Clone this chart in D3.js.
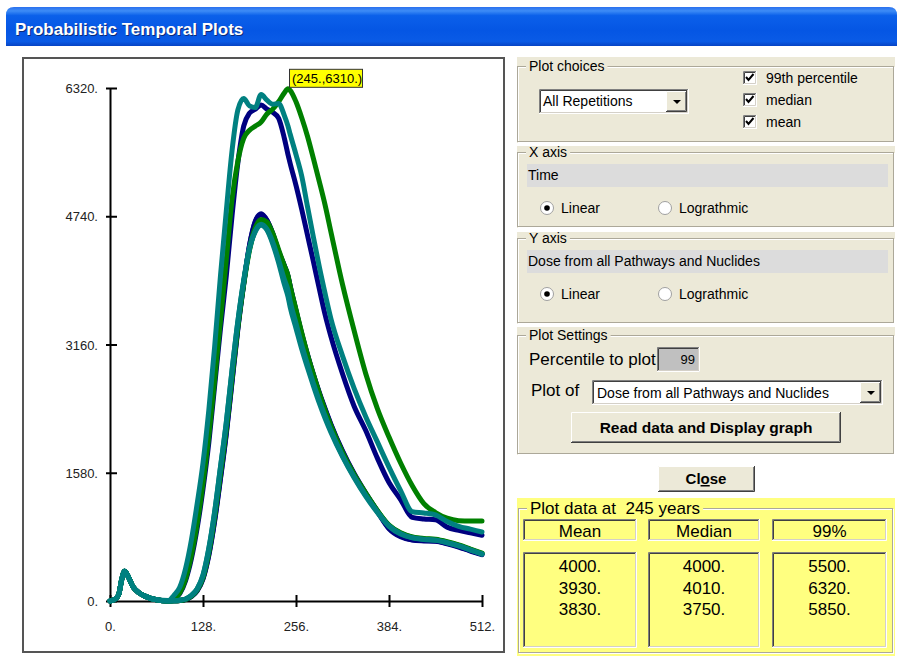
<!DOCTYPE html>
<html>
<head>
<meta charset="utf-8">
<script src="https://cdn.jsdelivr.net/npm/d3@7"></script>
<style>
body { margin: 0; background: #fff; }
svg text { font-family: "Liberation Sans", Arial, sans-serif; fill: #000; }
</style>
</head>
<body>
<script>
var w = 898;
var h = 664;

// time axis (years) shared by all the curves
var years = [0, 8, 12, 16, 20, 24, 32, 40, 48, 64, 80,
    88, 96, 104, 112, 120, 128, 136, 144, 152, 160,
    168, 176, 184, 192, 200, 208, 216, 224, 232, 240,
    245, 248, 256, 264, 272, 280, 288, 296, 304,
    320, 336, 352, 368, 384, 400, 416, 432, 448, 464, 480, 496, 512];

// repetition 1 (navy)
var meanRep1 = [0, 30, 80, 260, 365, 320, 170, 100, 60, 15, 0,
    2, 6, 18, 55, 125, 270, 560, 980, 1500, 2050,
    2700, 3350, 3900, 4380, 4680, 4770, 4690, 4520, 4300, 4130,
    4000, 3880, 3580, 3290, 3030, 2790, 2570, 2370, 2180,
    1850, 1570, 1330, 1110, 900, 800, 755, 745, 740, 710, 670, 620, 575];
var medianRep1 = [0, 30, 80, 260, 365, 320, 170, 100, 60, 15, 0,
    2, 6, 20, 58, 130, 280, 575, 1000, 1520, 2070,
    2720, 3370, 3910, 4380, 4670, 4760, 4690, 4530, 4310, 4130,
    4000, 3870, 3570, 3280, 3020, 2780, 2560, 2360, 2170,
    1840, 1560, 1320, 1100, 890, 790, 750, 740, 735, 705, 665, 615, 570];
var p99Rep1 = [0, 30, 80, 260, 365, 320, 170, 100, 60, 15, 3,
    25, 90, 250, 520, 900, 1380, 1950, 2650, 3350, 4000,
    4750, 5400, 5850, 6010, 6060, 6110, 6060, 6020, 5950, 5700,
    5500, 5390, 5120, 4820, 4500, 4180, 3850, 3530, 3260,
    2800, 2400, 2100, 1760, 1460, 1250, 1030, 1010, 1000, 910, 870, 840, 810];

// repetition 2 (green)
var meanRep2 = [0, 30, 80, 260, 365, 320, 170, 100, 60, 15, 0,
    2, 7, 20, 60, 135, 290, 600, 1040, 1570, 2120,
    2760, 3380, 3900, 4320, 4580, 4680, 4640, 4490, 4280, 4060,
    3930, 3800, 3520, 3250, 2990, 2750, 2530, 2330, 2140,
    1820, 1550, 1320, 1110, 930, 835, 785, 765, 755, 725, 685, 635, 585];
var medianRep2 = [0, 30, 80, 260, 365, 320, 170, 100, 60, 15, 0,
    2, 7, 21, 62, 140, 295, 610, 1050, 1580, 2130,
    2770, 3400, 3920, 4340, 4600, 4700, 4670, 4530, 4330, 4130,
    4010, 3880, 3590, 3300, 3030, 2790, 2560, 2350, 2160,
    1830, 1560, 1330, 1115, 935, 840, 790, 770, 760, 730, 690, 640, 590];
var p99Rep2 = [0, 30, 80, 260, 365, 320, 170, 100, 60, 15, 3,
    30, 100, 270, 560, 950, 1450, 2030, 2720, 3450, 4200,
    4950, 5420, 5700, 5800, 5850, 5900, 6000, 6060, 6150, 6260,
    6310, 6290, 6150, 5950, 5720, 5450, 5170, 4880, 4550,
    3900, 3330, 2800, 2370, 2020, 1700, 1420, 1200, 1090, 1020, 990, 985, 985];

// repetition 3 (teal)
var meanRep3 = [0, 30, 80, 260, 365, 320, 170, 100, 60, 15, 0,
    3, 8, 25, 70, 150, 320, 650, 1100, 1650, 2200,
    2850, 3450, 3950, 4350, 4560, 4640, 4580, 4420, 4200, 3960,
    3830, 3690, 3420, 3150, 2910, 2680, 2470, 2280, 2100,
    1790, 1530, 1300, 1100, 925, 830, 780, 760, 750, 720, 680, 630, 580];
var medianRep3 = [0, 30, 80, 260, 365, 320, 170, 100, 60, 15, 0,
    3, 8, 24, 68, 148, 315, 640, 1090, 1640, 2190,
    2840, 3440, 3940, 4340, 4550, 4630, 4570, 4400, 4170, 3900,
    3750, 3620, 3360, 3100, 2870, 2650, 2440, 2250, 2080,
    1780, 1520, 1290, 1090, 920, 825, 778, 758, 748, 718, 678, 628, 578];
var p99Rep3 = [0, 30, 80, 260, 365, 320, 170, 100, 60, 15, 5,
    70, 170, 400, 750, 1200, 1700, 2350, 3130, 4000, 4800,
    5550, 6050, 6190, 6100, 6080, 6240, 6170, 6120, 6130, 5980,
    5850, 5750, 5500, 5230, 4850, 4480, 4120, 3790, 3480,
    3020, 2620, 2270, 1960, 1650, 1360, 1100, 1085, 1060, 980, 920, 885, 850];

var repColors = ["#000080", "#008000", "#008080"];

var xTicks = [0, 128, 256, 384, 512];
var yTicks = [0, 1580, 3160, 4740, 6320];

// point under the cursor
var pickYear = 245;
var pickValue = 6310;

// "Plot data at" table
var tableHeads = ["Mean", "Median", "99%"];
var tableMean = [4000, 3930, 3830];
var tableMedian = [4000, 4010, 3750];
var table99 = [5500, 6320, 5850];

var checkLabels = ["99th percentile", "median", "mean"];

var beige = "#ece9d8";

var svg = d3.select("body")
    .append("svg")
    .attr("width", w)
    .attr("height", h);

//************** helpers */
function bevel(g, x, y, bw, bh, fill, sunken) {
    g.append("rect")
        .attr("x", x).attr("y", y)
        .attr("width", bw).attr("height", bh)
        .style("fill", fill);
    var c = sunken ? ["#808080", "#ffffff", "#404040", "#d4d0c8"]
                   : ["#ffffff", "#404040", beige, "#808080"];
    g.append("path")
        .attr("d", "M" + (x + 0.5) + "," + (y + bh) + "V" + (y + 0.5) + "H" + (x + bw))
        .style("fill", "none").style("stroke", c[0]);
    g.append("path")
        .attr("d", "M" + x + "," + (y + bh - 0.5) + "H" + (x + bw - 0.5) + "V" + y)
        .style("fill", "none").style("stroke", c[1]);
    g.append("path")
        .attr("d", "M" + (x + 1.5) + "," + (y + bh - 1) + "V" + (y + 1.5) + "H" + (x + bw - 1))
        .style("fill", "none").style("stroke", c[2]);
    g.append("path")
        .attr("d", "M" + (x + 1) + "," + (y + bh - 1.5) + "H" + (x + bw - 1.5) + "V" + (y + 1))
        .style("fill", "none").style("stroke", c[3]);
}

function groupBox(g, x, y, bw, bh, label, fs, bg) {
    g.append("rect")
        .attr("x", x + 1.5).attr("y", y + 1.5)
        .attr("width", bw - 1).attr("height", bh - 1)
        .style("fill", "none").style("stroke", "#ffffff");
    g.append("rect")
        .attr("x", x + 0.5).attr("y", y + 0.5)
        .attr("width", bw - 1).attr("height", bh - 1)
        .style("fill", "none").style("stroke", "#aca899");
    var t = g.append("text")
        .attr("x", x + 12).attr("y", y + fs * 0.36)
        .style("font-size", fs + "px")
        .style("white-space", "pre")
        .text(label);
    var len = t.node().getComputedTextLength();
    g.insert("rect", function () { return t.node(); })
        .attr("x", x + 9).attr("y", y - 2)
        .attr("width", len + 6).attr("height", 5)
        .style("fill", bg);
}

function dropArrow(g, x, y) {
    bevel(g, x, y, 21, 21, beige, false);
    g.append("path")
        .attr("d", "M" + (x + 7) + "," + (y + 9) + "h8l-4,4z")
        .style("fill", "#000");
}

function radio(g, cx, cy, on, label) {
    g.append("circle")
        .attr("cx", cx).attr("cy", cy).attr("r", 6.5)
        .style("fill", "#fff").style("stroke", "#a0a0a0");
    if (on) {
        g.append("circle")
            .attr("cx", cx).attr("cy", cy).attr("r", 2.8)
            .style("fill", "#000");
    }
    g.append("text")
        .attr("x", cx + 14).attr("y", cy + 5)
        .style("font-size", "14px")
        .text(label);
}

//************** title bar */
var grad = svg.append("defs").append("linearGradient")
    .attr("id", "titleGrad")
    .attr("x1", 0).attr("y1", 0).attr("x2", 0).attr("y2", 1);
grad.append("stop").attr("offset", "0%").attr("stop-color", "#2a70ee");
grad.append("stop").attr("offset", "10%").attr("stop-color", "#3d8cf6");
grad.append("stop").attr("offset", "22%").attr("stop-color", "#0b60ea");
grad.append("stop").attr("offset", "60%").attr("stop-color", "#0556e4");
grad.append("stop").attr("offset", "88%").attr("stop-color", "#0a5be6");
grad.append("stop").attr("offset", "100%").attr("stop-color", "#0744c4");

svg.append("path")
    .attr("d", "M6,46V15Q6,7 14,7H889Q897,7 897,15V46Z")
    .style("fill", "url(#titleGrad)");

svg.append("text")
    .attr("x", 16).attr("y", 36)
    .style("font-size", "17px").style("font-weight", "bold")
    .style("fill", "#0a2a7a")
    .text("Probabilistic Temporal Plots");
svg.append("text")
    .attr("x", 15).attr("y", 35)
    .style("font-size", "17px").style("font-weight", "bold")
    .style("fill", "#ffffff")
    .text("Probabilistic Temporal Plots");

//************** chart panel */
svg.append("rect")
    .attr("x", 23).attr("y", 58)
    .attr("width", 481).attr("height", 594)
    .style("fill", "#fff")
    .style("stroke", "#555")
    .style("stroke-width", 2);

var x = d3.scaleLinear().domain([0, 512]).range([110, 482]);
var y = d3.scaleLinear().domain([0, 6320]).range([601, 88]);

var xAxis = d3.axisBottom(x)
    .tickValues(xTicks)
    .tickSizeOuter(0)
    .tickFormat(function (d) { return d + "."; });
var yAxis = d3.axisLeft(y)
    .tickValues(yTicks)
    .tickSizeOuter(0)
    .tickFormat(function (d) { return d + "."; });

var gx = svg.append("g").attr("transform", "translate(0," + y(0) + ")").call(xAxis);
gx.selectAll(".tick line").attr("y1", -6).attr("y2", 6);
gx.selectAll(".tick text").attr("y", 21).attr("dy", "0.71em");

var gy = svg.append("g").attr("transform", "translate(" + x(0) + ",0)").call(yAxis);
gy.selectAll(".tick line").attr("x1", -4).attr("x2", 7);
gy.selectAll(".tick text").attr("x", -12).attr("dy", "0.35em");

svg.selectAll(".domain, .tick line")
    .style("stroke", "#000")
    .style("stroke-width", 2);
svg.selectAll(".tick text")
    .style("font-family", "'Liberation Sans', Arial, sans-serif")
    .style("font-size", "13px")
    .style("fill", "#222");

//************** curves */
var series = [
    { vals: meanRep1, color: repColors[0] },
    { vals: medianRep1, color: repColors[0] },
    { vals: p99Rep1, color: repColors[0] },
    { vals: meanRep2, color: repColors[1] },
    { vals: medianRep2, color: repColors[1] },
    { vals: p99Rep2, color: repColors[1] },
    { vals: meanRep3, color: repColors[2] },
    { vals: medianRep3, color: repColors[2] },
    { vals: p99Rep3, color: repColors[2] }
];

var line = d3.line()
    .x(function (d, i) { return x(years[i]); })
    .y(function (d) { return y(d); })
    .curve(d3.curveMonotoneX);

svg.append("g")
    .selectAll("path")
    .data(series)
    .enter()
    .append("path")
    .attr("d", function (d) { return line(d.vals); })
    .style("fill", "none")
    .style("stroke", function (d) { return d.color; })
    .style("stroke-width", 5)
    .style("stroke-linejoin", "round")
    .style("stroke-linecap", "round");

// value label at the picked point
var tip = svg.append("g")
    .attr("transform", "translate(" + (x(pickYear) + 1) + "," + (y(pickValue) - 20) + ")");
tip.append("rect")
    .attr("x", 0.5).attr("y", 0.5)
    .attr("width", 73).attr("height", 18)
    .style("fill", "#ffff00")
    .style("stroke", "#333");
tip.append("text")
    .attr("x", 3).attr("y", 14)
    .style("font-size", "13px")
    .text("(" + pickYear + ".," + pickValue + ".)");

//************** controls */
var ctl = svg.append("g");

var frames = [
    { y: 57, h: 86, line: 66, label: "Plot choices" },
    { y: 146, h: 82, line: 152, label: "X axis" },
    { y: 232, h: 92, line: 238, label: "Y axis" },
    { y: 327, h: 128, line: 335, label: "Plot Settings" }
];
frames.forEach(function (f) {
    ctl.append("rect")
        .attr("x", 517).attr("y", f.y)
        .attr("width", 378).attr("height", f.h)
        .style("fill", beige);
    groupBox(ctl, 517, f.line, 377, f.y + f.h - f.line - 1, f.label, 14, beige);
});

// Plot choices
bevel(ctl, 539, 89, 150, 25, "#fff", true);
ctl.append("text").attr("x", 543).attr("y", 106)
    .style("font-size", "14px").text("All Repetitions");
dropArrow(ctl, 666, 91);

checkLabels.forEach(function (lab, i) {
    var cy = 78 + i * 22;
    bevel(ctl, 743, cy - 7, 14, 14, "#fff", true);
    ctl.append("path")
        .attr("d", "M" + 746 + "," + (cy - 1) + "l2.5,3l5,-6")
        .style("fill", "none").style("stroke", "#000").style("stroke-width", 2);
    ctl.append("text").attr("x", 766).attr("y", cy + 5)
        .style("font-size", "14px").text(lab);
});

// X axis
ctl.append("rect").attr("x", 527).attr("y", 164).attr("width", 361).attr("height", 23)
    .style("fill", "#dcdcdc");
ctl.append("text").attr("x", 528).attr("y", 180)
    .style("font-size", "14px").text("Time");
radio(ctl, 547, 208, true, "Linear");
radio(ctl, 665, 208, false, "Lograthmic");

// Y axis
ctl.append("rect").attr("x", 527).attr("y", 250).attr("width", 361).attr("height", 23)
    .style("fill", "#dcdcdc");
ctl.append("text").attr("x", 528).attr("y", 266)
    .style("font-size", "14px").text("Dose from all Pathways and Nuclides");
radio(ctl, 547, 294, true, "Linear");
radio(ctl, 665, 294, false, "Lograthmic");

// Plot settings
ctl.append("text").attr("x", 529).attr("y", 365)
    .style("font-size", "17px").text("Percentile to plot");
bevel(ctl, 657, 347, 43, 25, "#c0c0c0", true);
ctl.append("text").attr("x", 695).attr("y", 364)
    .style("font-size", "13px").style("text-anchor", "end").text("99");

ctl.append("text").attr("x", 531).attr("y", 396)
    .style("font-size", "17px").text("Plot of");
bevel(ctl, 592, 380, 291, 25, "#fff", true);
ctl.append("text").attr("x", 597).attr("y", 398)
    .style("font-size", "14px").text("Dose from all Pathways and Nuclides");
dropArrow(ctl, 860, 382);

bevel(ctl, 571, 412, 270, 31, beige, false);
ctl.append("text").attr("x", 706).attr("y", 433)
    .style("font-size", "15.5px").style("font-weight", "bold")
    .style("text-anchor", "middle").text("Read data and Display graph");

// Close button
bevel(ctl, 658, 466, 97, 26, beige, false);
var closeTxt = ctl.append("text").attr("x", 706).attr("y", 484)
    .style("font-size", "15px").style("font-weight", "bold")
    .style("text-anchor", "middle");
closeTxt.append("tspan").text("Cl");
closeTxt.append("tspan").style("text-decoration", "underline").text("o");
closeTxt.append("tspan").text("se");

//************** plot data table */
var tbl = svg.append("g");
tbl.append("rect")
    .attr("x", 517).attr("y", 498)
    .attr("width", 378).attr("height", 158)
    .style("fill", "#ffff80");
groupBox(tbl, 518, 508, 375, 145, "Plot data at  " + pickYear + " years", 17, "#ffff80");

var colX = [523, 648, 772];
var colW = [114, 112, 115];
var cols = [tableMean, tableMedian, table99];
tableHeads.forEach(function (head, i) {
    bevel(tbl, colX[i], 519, colW[i], 22, "#ffff80", true);
    tbl.append("text")
        .attr("x", colX[i] + colW[i] / 2).attr("y", 537)
        .style("font-size", "17px").style("text-anchor", "middle")
        .text(head);
    bevel(tbl, colX[i], 552, colW[i], 96, "#ffff80", true);
    tbl.selectAll(null)
        .data(cols[i])
        .enter()
        .append("text")
        .attr("x", colX[i] + colW[i] / 2)
        .attr("y", function (d, j) { return 572 + j * 21.5; })
        .style("font-size", "17px").style("text-anchor", "middle")
        .text(function (d) { return d + "."; });
});
</script>
</body>
</html>
